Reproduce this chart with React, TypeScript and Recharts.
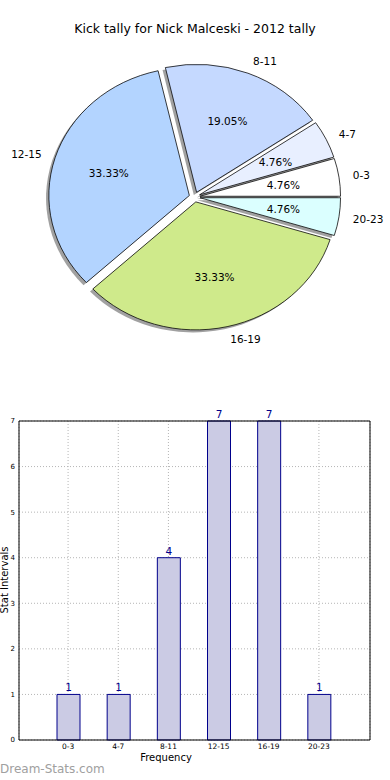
import { PieChart, Pie, Cell, BarChart, Bar, XAxis, YAxis, CartesianGrid, LabelList } from "recharts";

const categories = ["0-3", "4-7", "8-11", "12-15", "16-19", "20-23"];
const counts = [1, 1, 4, 7, 7, 1];
const sliceColors = ["#ffffff", "#e8efff", "#c5d9ff", "#b3d4ff", "#cfea8b", "#dbffff"];
const yTicks = [0, 1, 2, 3, 4, 5, 6, 7];

const pieData = categories.map((name, i) => ({ name, value: counts[i] }));
const barData = categories.map((name, i) => ({ name, count: counts[i] }));

// pie geometry (matplotlib pie on a non-square axes -> ellipse)
const CX = 194.6;
const CY = 197;
const R = 140.5;
const K = 0.911; // vertical squash
const EXPLODE = 5.5;
const RAD = Math.PI / 180;
const total = counts.reduce((a, b) => a + b, 0);

const midAngles = counts.map((c, i) => {
  const before = counts.slice(0, i).reduce((a, b) => a + b, 0);
  return ((before + c / 2) / total) * 360;
});

const css = `
.pie-squash .recharts-sector {
  transform-box: view-box;
  transform-origin: ${CX}px ${CY}px;
  transform: scaleY(${K});
}
`;

const squashY = (y: number) => CY + (y - CY) * K;

const renderLabel = (i: number) => (p: any) => {
  if (p.index !== i) return null;
  const a = -p.midAngle * RAD;
  const cos = Math.cos(a);
  const sin = Math.sin(a);
  const pct = `${(p.percent * 100).toFixed(2)}%`;
  return (
    <g>
      <text x={p.cx + 0.6 * R * cos} y={squashY(p.cy + 0.6 * R * sin)} textAnchor="middle" dominantBaseline="central" fontSize={10.5} fill="#000">
        {pct}
      </text>
      <text x={p.cx + 1.1 * R * cos} y={squashY(p.cy + 1.1 * R * sin)} textAnchor={cos >= 0 ? "start" : "end"} dominantBaseline="central" fontSize={10.5} fill="#000">
        {p.name}
      </text>
    </g>
  );
};

export default function App() {
  return (
    <div style={{ position: "absolute", left: 0, top: 0, width: 390, height: 780, background: "#fff", fontFamily: "'DejaVu Sans', sans-serif" }}>
      <style>{css}</style>
      <div style={{ position: "absolute", left: 0, top: 21, width: 390, textAlign: "center", fontSize: 12.5, color: "#000" }}>
        Kick tally for Nick Malceski - 2012 tally
      </div>

      <div className="pie-squash" style={{ position: "absolute", left: 0, top: 0 }}>
        <PieChart width={390} height={370} margin={{ top: 0, right: 0, bottom: 0, left: 0 }}>
          {/* shadows first */}
          {categories.map((_, i) => (
            <Pie
              key={`sh-${i}`}
              data={pieData}
              dataKey="value"
              cx={CX + EXPLODE * Math.cos(midAngles[i] * RAD) - 2.8}
              cy={CY - EXPLODE * Math.sin(midAngles[i] * RAD) + 2.8}
              outerRadius={R}
              startAngle={0}
              endAngle={360}
              isAnimationActive={false}
              label={false}
              labelLine={false}
            >
              {pieData.map((_, j) => (
                <Cell key={j} fill={j === i ? "#444" : "none"} fillOpacity={0.5} stroke="none" />
              ))}
            </Pie>
          ))}
          {categories.map((_, i) => (
            <Pie
              key={`w-${i}`}
              data={pieData}
              dataKey="value"
              nameKey="name"
              cx={CX + EXPLODE * Math.cos(midAngles[i] * RAD)}
              cy={CY - EXPLODE * Math.sin(midAngles[i] * RAD)}
              outerRadius={R}
              startAngle={0}
              endAngle={360}
              isAnimationActive={false}
              label={renderLabel(i)}
              labelLine={false}
            >
              {pieData.map((_, j) => (
                <Cell key={j} fill={j === i ? sliceColors[j] : "none"} stroke={j === i ? "#000" : "none"} strokeWidth={0.8} />
              ))}
            </Pie>
          ))}
        </PieChart>
      </div>

      <div style={{ position: "absolute", left: 0, top: 400 }}>
        <BarChart width={390} height={380} data={barData} margin={{ top: 20, right: 19, bottom: 26, left: 0 }}>
          <CartesianGrid stroke="#b5b5b5" strokeDasharray="1 2" />
          <XAxis
            dataKey="name"
            interval={0}
            padding={{ left: 24, right: 26 }}
            height={14}
            tick={{ fontSize: 7.5, fill: "#000" }}
            tickLine={false}
            tickSize={2}
            tickMargin={2}
            axisLine={{ stroke: "#000" }}
          />
          <XAxis xAxisId="top" orientation="top" dataKey="name" height={1} tick={false} tickLine={false} axisLine={{ stroke: "#000" }} />
          <YAxis
            domain={[0, 7]}
            ticks={yTicks}
            interval={0}
            width={19}
            tick={{ fontSize: 7, fill: "#000" }}
            tickLine={false}
            tickSize={2}
            tickMargin={2}
            axisLine={{ stroke: "#000" }}
          />
          <YAxis yAxisId="right" orientation="right" domain={[0, 7]} width={1} tick={false} tickLine={false} axisLine={{ stroke: "#000" }} />
          <Bar dataKey="count" barSize={23} fill="#cbcbe4" stroke="#00008b" strokeWidth={1} isAnimationActive={false}>
            <LabelList dataKey="count" position="top" offset={3} fill="#00008b" fontSize={10.5} />
          </Bar>
        </BarChart>
      </div>

      <div style={{ position: "absolute", left: 0, top: 752, width: 332, textAlign: "center", fontSize: 10, color: "#000" }}>Frequency</div>
      <div
        style={{
          position: "absolute",
          left: 4,
          top: 580,
          fontSize: 10,
          color: "#000",
          whiteSpace: "nowrap",
          transform: "translate(-50%, -50%) rotate(-90deg)",
        }}
      >
        Stat Intervals
      </div>
      <div style={{ position: "absolute", left: 0, top: 762, fontSize: 12, color: "#a0a0a0" }}>Dream-Stats.com</div>
    </div>
  );
}
